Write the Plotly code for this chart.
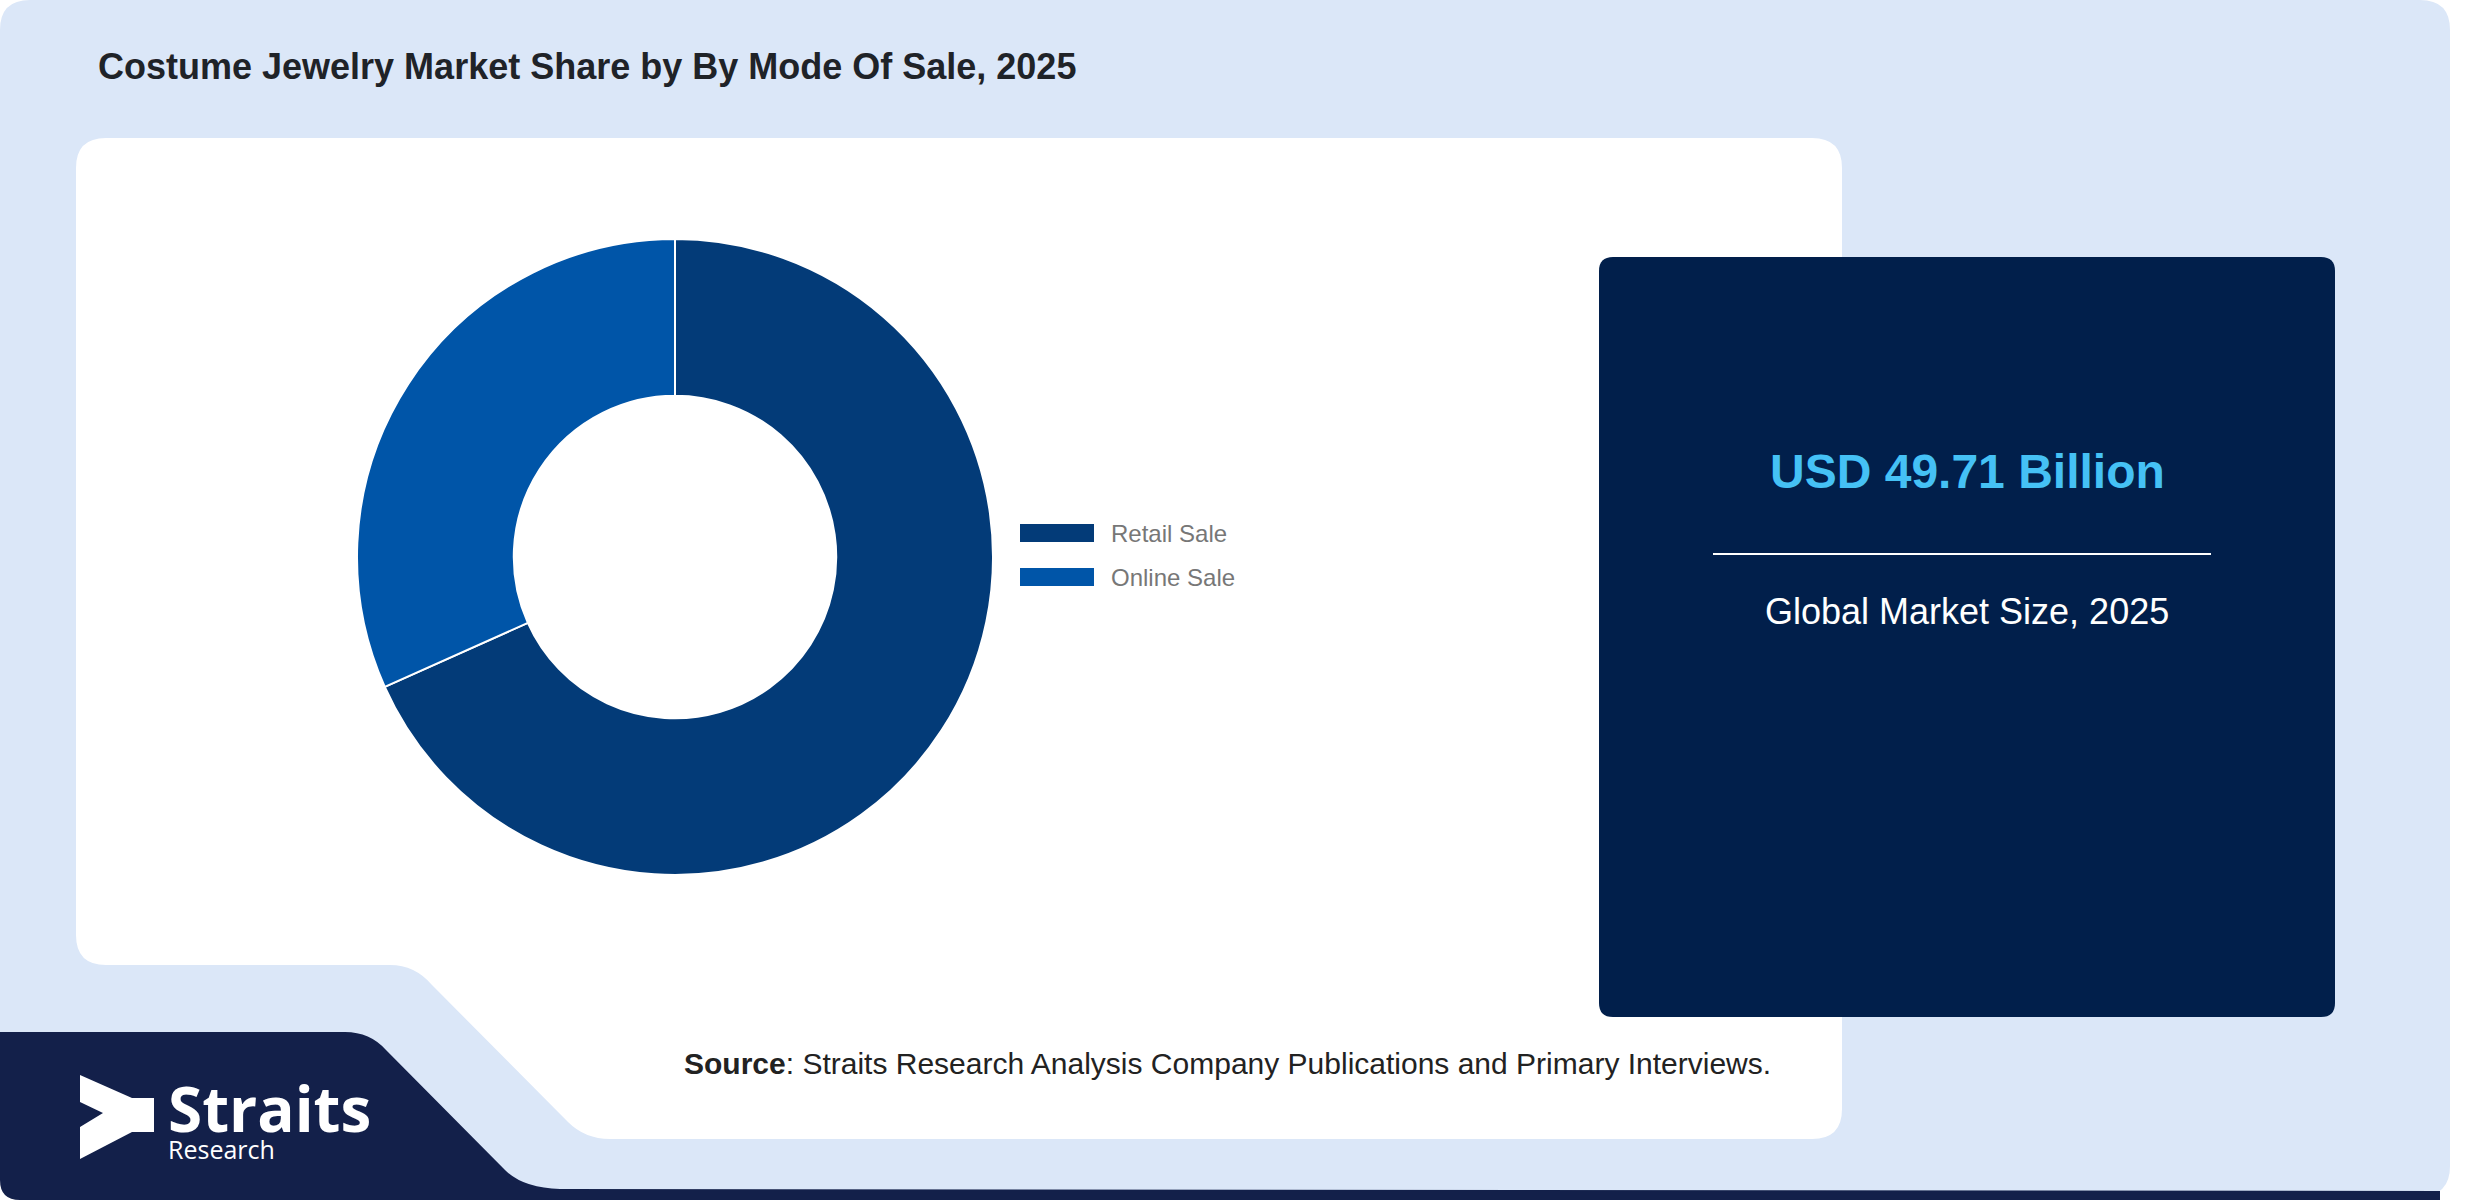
import plotly.graph_objects as go

# datos del grafico
modos = ["Retail Sale", "Online Sale"]
participacion = [68.3, 31.7]
colores = ["#033b78", "#0055a8"]

titulo = "Costume Jewelry Market Share by By Mode Of Sale, 2025"
valor_mercado = "USD 49.71 Billion"
texto_mercado = "Global Market Size, 2025"
fuente = "<b>Source</b>: Straits Research Analysis Company Publications and Primary Interviews."

W, H = 2480, 1200
FONT = "Liberation Sans, Arial, sans-serif"


def rect_redondo(x0, y0, x1, y1, r):
    return (f"M {x0+r},{y0} L {x1-r},{y0} Q {x1},{y0} {x1},{y0+r} "
            f"L {x1},{y1-r} Q {x1},{y1} {x1-r},{y1} L {x0+r},{y1} "
            f"Q {x0},{y1} {x0},{y1-r} L {x0},{y0+r} Q {x0},{y0} {x0+r},{y0} Z")


fig = go.Figure()

# dona
fig.add_trace(go.Pie(
    labels=modos,
    values=participacion,
    hole=0.507,
    sort=False,
    direction="clockwise",
    rotation=0,
    marker=dict(colors=colores, line=dict(color="white", width=2)),
    textinfo="none",
    hoverinfo="label+percent",
    showlegend=False,
    domain=dict(x=[357 / W, 993 / W], y=[(H - 875) / H, (H - 239) / H]),
))

shapes = []
# fondo celeste
shapes.append(dict(type="path", path=rect_redondo(0, 0, 2450, 1196, 30),
                   fillcolor="#dbe7f8", line=dict(width=0), layer="below"))
# banda azul oscuro abajo a la izquierda
shapes.append(dict(type="path",
                   path=("M 0,1032 L 345,1032 Q 370,1032 386,1050 L 505,1170 "
                         "Q 523,1188 560,1189 L 2440,1191 L 2440,1200 L 20,1200 "
                         "Q 0,1200 0,1180 Z"),
                   fillcolor="#13204a", line=dict(width=0), layer="below"))
# panel blanco
shapes.append(dict(type="path",
                   path=("M 106,138 L 1812,138 Q 1842,138 1842,168 L 1842,1109 "
                         "Q 1842,1139 1812,1139 L 610,1139 Q 585,1139 568,1122 "
                         "L 432,985 Q 415,965 390,965 L 106,965 Q 76,965 76,935 "
                         "L 76,168 Q 76,138 106,138 Z"),
                   fillcolor="white", line=dict(width=0), layer="below"))
# caja oscura
shapes.append(dict(type="path", path=rect_redondo(1599, 257, 2335, 1017, 14),
                   fillcolor="#011f4b", line=dict(width=0), layer="below"))
shapes.append(dict(type="line", x0=1713, x1=2211, y0=554, y1=554,
                   line=dict(color="white", width=2)))
# logo
shapes.append(dict(type="path",
                   path=("M 80,1075 L 132,1098 L 154,1098 L 154,1132 L 132,1132 "
                         "L 80,1159 L 80,1127 L 103,1113 L 80,1102 Z"),
                   fillcolor="white", line=dict(width=0)))

annotations = []
# leyenda propia (barras anchas)
for i, (m, c) in enumerate(zip(modos, colores)):
    yc = 533 + i * 44
    shapes.append(dict(type="rect", x0=1020, x1=1094, y0=yc - 9, y1=yc + 9,
                       fillcolor=c, line=dict(width=0)))
    annotations.append(dict(x=1109, y=yc, text=m, xanchor="left",
                            yanchor="middle", font=dict(family=FONT, size=24, color="#777777")))

annotations += [
    dict(x=96, y=66, text=f"<b>{titulo}</b>", xanchor="left", yanchor="middle",
         font=dict(family=FONT, size=36, color="#1f2328")),
    dict(x=1967, y=471, text=f"<b>{valor_mercado}</b>", xanchor="center", yanchor="middle",
         font=dict(family=FONT, size=48, color="#45c1f5")),
    dict(x=1967, y=611, text=texto_mercado, xanchor="center", yanchor="middle",
         font=dict(family=FONT, size=36, color="white")),
    dict(x=682, y=1063, text=fuente, xanchor="left", yanchor="middle",
         font=dict(family=FONT, size=30, color="#222222")),
    # logo en un solo texto de dos lineas
    dict(x=166, y=1064, xanchor="left", yanchor="top", align="left",
         text=("<span style='font-size:62px'><b>Straits</b></span><br>"
               "<span style='font-size:25px'>Research</span>"),
         font=dict(family="Open Sans, sans-serif", size=21, color="white")),
]
for a in annotations:
    a["showarrow"] = False
    a["xref"] = "x"
    a["yref"] = "y"
for s in shapes:
    s["xref"] = "x"
    s["yref"] = "y"

fig.update_layout(
    width=W, height=H,
    margin=dict(l=0, r=0, t=0, b=0),
    paper_bgcolor="white",
    plot_bgcolor="rgba(0,0,0,0)",
    # el eje va en pixeles de la pagina
    xaxis=dict(range=[0, W], visible=False, fixedrange=True),
    yaxis=dict(range=[H, 0], visible=False, fixedrange=True),
    shapes=shapes,
    annotations=annotations,
    showlegend=False,
)

# sin margen del body para que el grafico empiece en 0,0
fig.write_html("out.html", config={"displayModeBar": False},
               post_script="document.body.style.margin='0';")
